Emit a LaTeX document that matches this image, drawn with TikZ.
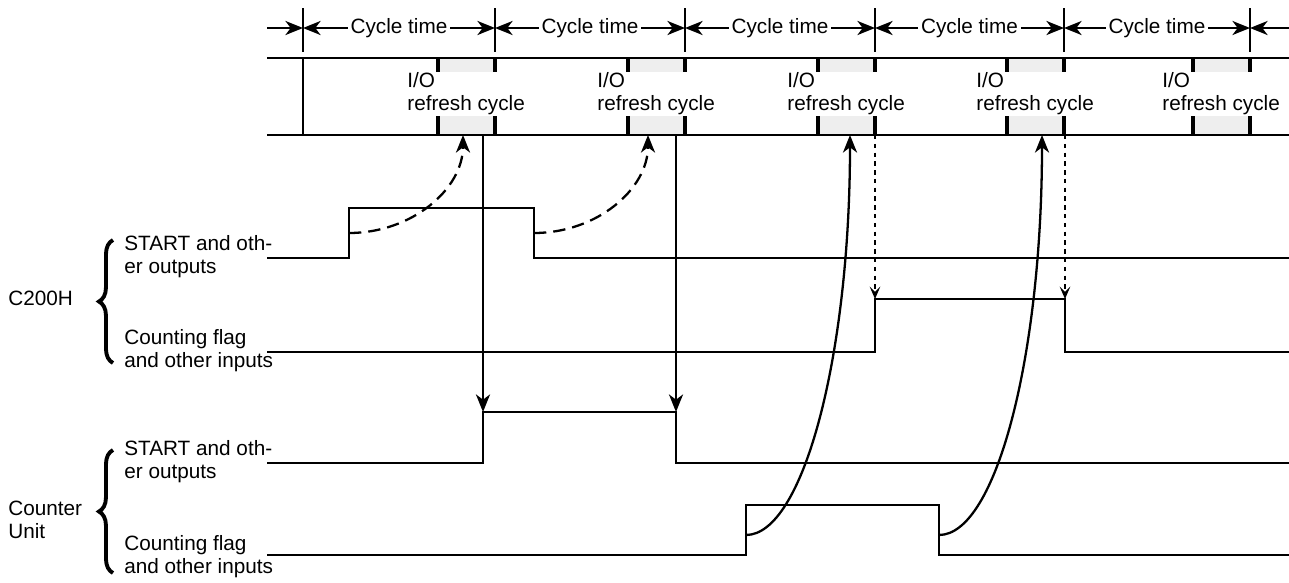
\documentclass[tikz,border=0pt]{standalone}
\usepackage{fontspec}
\setmainfont{Liberation Sans}
\usetikzlibrary{arrows.meta, decorations.pathreplacing, calc}
\definecolor{refG}{RGB}{238,238,238}
\tikzset{sig/.style={line width=1.3pt},
  edge/.style={line width=1.8pt},
  tip/.style={-{Stealth[length=10pt, width=8pt, inset=3pt]}},
  smalltip/.style={-{Stealth[length=7pt, width=6pt, inset=3pt]}},
  lbl/.style={anchor=west, align=left, inner sep=0pt},
  bigbrace/.style={decorate, decoration={brace, amplitude=8pt}, line width=2.2pt}}

\begin{document}
\begin{tikzpicture}[x=0.02cm, y=-0.02cm, font=\fontsize{11.8}{13}\selectfont]
\useasboundingbox (0,0) rectangle (1289,582);
% ---- cycle time row ----
\foreach \b in {303,495,685,875,1064,1250}{
  \draw[sig] (\b,8) -- (\b,52);}
\foreach \a/\b [count=\k] in {303/495,495/685,685/875,875/1064,1064/1250}{
  \node[inner sep=1.5pt] (ct\k) at ({(\a+\b)/2},28) {Cycle time};
  \draw[sig, tip] (ct\k.west) -- (\a,28);
  \draw[sig, tip] (ct\k.east) -- (\b,28);}
\coordinate (ct-in) at (267,28);
\coordinate (ct-out) at (1289,28);
\draw[sig, tip] (ct-in) -- (303,28);
\draw[sig, tip] (ct-out) -- (1250,28);
% ---- I/O refresh band ----
% shaded refresh slots: upper 58..72, lower 116..135, width 57
\foreach \b in {495,685,875,1064,1250}{
  \fill[refG] (\b-57,58) rectangle (\b,72);
  \fill[refG] (\b-57,116) rectangle (\b,135);}
\draw[sig] (267,58) -- (1289,58);
\draw[sig] (267,135) -- (1289,135);
\draw[sig] (303,58) -- (303,135);
\foreach \b [count=\k] in {495,685,875,1064,1250}{
  \draw[edge] (\b-57,58) -- (\b-57,72) (\b,58) -- (\b,72);
  \draw[edge] (\b-57,116) -- (\b-57,135) (\b,116) -- (\b,135);
  \node[lbl] (io\k) at (\b-88,94) {I/O\\refresh cycle};}
% ---- signal labels ----
\node[lbl] (hname) at (8,298) {C200H};
\node[lbl] (uname) at (8,520) {Counter\\Unit};
\node[lbl] (hst) at (124,257) {START and oth-\\er outputs};
\node[lbl] (hfl) at (124,351) {Counting flag\\and other inputs};
\node[lbl] (ust) at (124,462) {START and oth-\\er outputs};
\node[lbl] (ufl) at (124,557) {Counting flag\\and other inputs};
\draw[bigbrace] (113,363) -- (113,240);
\draw[bigbrace] (113,573) -- (113,450);
% ---- waveforms ----
\draw[sig] (267,258) -- (349,258) -- (349,208) -- (534,208) -- (534,258) -- (1289,258);
\draw[sig] (267,352) -- (875,352) -- (875,299) -- (1065,299) -- (1065,352) -- (1289,352);
\draw[sig] (267,463) -- (483,463) -- (483,412) -- (676,412) -- (676,463) -- (1289,463);
\draw[sig] (267,555) -- (746,555) -- (746,505) -- (939,505) -- (939,555) -- (1289,555);
% ---- hand-over points ----
\coordinate (hs-up) at (349,233);
\coordinate (hs-dn) at (534,233);
\coordinate (io1-in) at (463,135);
\coordinate (io2-in) at (648,135);
\coordinate (io3-in) at (850,135);
\coordinate (io4-in) at (1042,135);
\coordinate (io1-out) at (483,135);
\coordinate (io2-out) at (676,135);
\coordinate (io3-out) at (875,135);
\coordinate (io4-out) at (1065,135);
\coordinate (us-up) at (483,412);
\coordinate (us-dn) at (676,412);
\coordinate (hf-up) at (875,299);
\coordinate (hf-dn) at (1065,299);
\coordinate (uf-up) at (746,535);
\coordinate (uf-dn) at (939,535);
% C200H outputs read at next refresh
\draw[sig, tip, dash pattern=on 7pt off 4pt] (hs-up) .. controls +(63,0) and +(0,54) .. (io1-in);
\draw[sig, tip, dash pattern=on 7pt off 4pt] (hs-dn) .. controls +(63,0) and +(0,54) .. (io2-in);
% refresh -> counter unit START
\draw[sig, tip] (io1-out) -- (us-up);
\draw[sig, tip] (io2-out) -- (us-dn);
% counter flag -> refresh
\draw[sig, tip] (uf-up) .. controls +(57,0) and +(0,221) .. (io3-in);
\draw[sig, tip] (uf-dn) .. controls +(57,0) and +(0,221) .. (io4-in);
% refresh -> C200H flag
\draw[sig, smalltip, dash pattern=on 2.5pt off 2.5pt] (io3-out) -- (hf-up);
\draw[sig, smalltip, dash pattern=on 2.5pt off 2.5pt] (io4-out) -- (hf-dn);
\end{tikzpicture}
\end{document}
